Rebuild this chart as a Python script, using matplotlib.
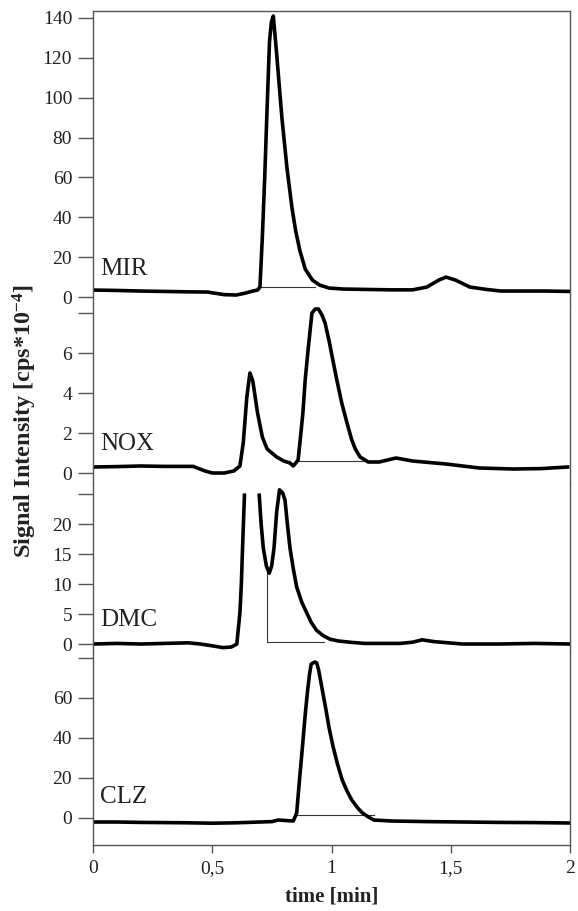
import numpy as np
import matplotlib
matplotlib.use("Agg")
import matplotlib.pyplot as plt

plt.rcParams['font.family'] = ['Liberation Serif', 'DejaVu Serif']
plt.rcParams['mathtext.fontset'] = 'custom'
plt.rcParams['mathtext.rm'] = 'Liberation Serif'
plt.rcParams['mathtext.bf'] = 'Liberation Serif:bold'

# chromatogram traces (time in min, signal)
mir_t = [0.00, 0.10, 0.20, 0.30, 0.40, 0.48, 0.55, 0.60, 0.64, 0.67, 0.69, 0.70,
         0.71, 0.72, 0.73, 0.74, 0.748, 0.756, 0.77, 0.792, 0.813, 0.834, 0.85,
         0.868, 0.89, 0.92, 0.95, 0.99, 1.05, 1.15, 1.25, 1.34, 1.40, 1.45, 1.48,
         1.52, 1.58, 1.65, 1.71, 1.80, 1.90, 2.00]
mir_y = [3.5, 3.3, 3.0, 2.8, 2.6, 2.5, 1.2, 1.0, 2.0, 3.0, 3.5, 5.0,
         30, 60, 95, 128, 138, 141, 122, 90, 65, 45, 33,
         23, 14, 8.5, 6.0, 4.5, 4.0, 3.8, 3.6, 3.6, 5.0, 8.5, 10.0,
         8.5, 5.0, 3.8, 3.0, 3.0, 3.0, 2.8]

nox_t = [0.00, 0.10, 0.20, 0.30, 0.42, 0.47, 0.50, 0.55, 0.59, 0.616, 0.63,
         0.645, 0.658, 0.67, 0.69, 0.71, 0.73, 0.77, 0.80, 0.826, 0.84, 0.86,
         0.87, 0.88, 0.89, 0.903, 0.918, 0.932, 0.945, 0.96, 0.973, 0.99, 1.008,
         1.025, 1.043, 1.065, 1.085, 1.10, 1.12, 1.154, 1.20, 1.27, 1.34, 1.48,
         1.62, 1.76, 1.88, 1.99]
nox_y = [0.30, 0.32, 0.35, 0.33, 0.33, 0.10, 0.00, 0.00, 0.10, 0.35, 1.5,
         3.8, 5.0, 4.6, 3.0, 1.8, 1.2, 0.8, 0.6, 0.5, 0.35, 0.65,
         1.8, 3.0, 4.7, 6.3, 8.0, 8.2, 8.2, 7.9, 7.5, 6.6, 5.5,
         4.5, 3.5, 2.5, 1.65, 1.2, 0.8, 0.55, 0.55, 0.75, 0.6, 0.45,
         0.25, 0.2, 0.22, 0.3]

dmc_t = [0.00, 0.10, 0.20, 0.30, 0.40, 0.45, 0.50, 0.545, 0.58, 0.603, 0.616,
         0.622, 0.627, 0.635, 0.66, 0.697, 0.705, 0.714, 0.727, 0.739, 0.749,
         0.759, 0.770, 0.782, 0.795, 0.805, 0.815, 0.826, 0.840, 0.854, 0.875,
         0.896, 0.915, 0.937, 0.965, 0.994, 1.03, 1.077, 1.14, 1.287, 1.34,
         1.38, 1.43, 1.55, 1.70, 1.85, 2.00]
dmc_y = [0.0, 0.1, 0.0, 0.1, 0.2, 0.0, -0.3, -0.6, -0.5, 0.0, 5.2,
         10.0, 16.0, 24.8, np.nan, 24.8, 20.0, 16.0, 13.0, 11.8, 13.0,
         16.0, 22.0, 25.7, 25.2, 24.0, 20.0, 16.0, 12.5, 9.5, 7.0,
         5.2, 3.6, 2.3, 1.4, 0.8, 0.5, 0.3, 0.1, 0.1, 0.3,
         0.7, 0.4, 0.0, 0.0, 0.1, 0.0]

clz_t = [0.00, 0.10, 0.20, 0.30, 0.40, 0.50, 0.60, 0.70, 0.75, 0.777, 0.80,
         0.84, 0.854, 0.865, 0.877, 0.89, 0.90, 0.908, 0.915, 0.93, 0.938,
         0.946, 0.96, 0.977, 0.99, 1.007, 1.025, 1.045, 1.065, 1.085, 1.11,
         1.13, 1.155, 1.177, 1.25, 1.40, 1.55, 1.70, 1.85, 2.00]
clz_y = [-2.0, -2.0, -2.2, -2.3, -2.4, -2.6, -2.4, -2.0, -1.8, -1.0, -1.2,
         -1.5, 2.5, 18, 34, 52, 64, 72, 77, 78, 77.5,
         74, 65, 54, 45, 35.5, 27, 19, 13.5, 9.0, 5.0,
         2.5, 0.5, -1.0, -1.5, -1.8, -2.0, -2.2, -2.3, -2.5]

# integration baselines and DMC drop line
mir_base = ([0.70, 0.93], [5.0, 5.0])
nox_base = ([0.86, 1.13], [0.6, 0.6])
dmc_base = ([0.73, 0.73, 0.97], [12.0, 0.33, 0.33])
clz_base = ([0.855, 1.18], [1.5, 1.5])

names = ['MIR', 'NOX', 'DMC', 'CLZ']
yticks = [[0, 20, 40, 60, 80, 100, 120, 140], [0, 2, 4, 6, 8],
          [0, 5, 10, 15, 20, 25], [0, 20, 40, 60, 80]]
ylabels = [['0', '20', '40', '60', '80', '100', '120', '140'],
           ['0', '2', '4', '6', ''], ['0', '5', '10', '15', '20', ''],
           ['0', '20', '40', '60', '']]
ylims = [(-3.5, 143.5), (-0.55, 8.45), (-1.33, 26.67), (-13.5, 83)]
name_y = [11, 1.15, 3.0, 7.5]
xticks = [0, 0.5, 1, 1.5, 2]
xlabels = ['0', '0,5', '1', '1,5', '2']

W, H = 578, 911
edges = [11, 304, 484, 652, 845]
frame = '#555555'

fig = plt.figure(figsize=(W / 100, H / 100), dpi=100)
traces = [(mir_t, mir_y, mir_base), (nox_t, nox_y, nox_base),
          (dmc_t, dmc_y, dmc_base), (clz_t, clz_y, clz_base)]

for i, (t, y, base) in enumerate(traces):
    top, bot = edges[i], edges[i + 1]
    ax = fig.add_axes([93 / W, 1 - bot / H, (570 - 93) / W, (bot - top) / H])
    ax.plot(base[0], base[1], color='#333333', lw=0.8)
    ax.plot(t, y, color='black', lw=2.6, solid_joinstyle='round')
    ax.set_xlim(0, 2)
    ax.set_ylim(*ylims[i])
    ax.set_yticks(yticks[i])
    ax.set_yticklabels(ylabels[i])
    ax.tick_params(axis='y', direction='out', length=11, width=1, color=frame,
                   labelsize=14, pad=4, labelcolor='#222222')
    ax.text(0.03, name_y[i], names[i], fontsize=18, va='baseline', color='#222222')
    for s in ax.spines.values():
        s.set_color(frame)
        s.set_linewidth(1)
    if i > 0:
        ax.spines['top'].set_visible(False)
    if i < 3:
        ax.spines['bottom'].set_visible(False)
        ax.tick_params(axis='x', bottom=False, labelbottom=False)
    else:
        ax.set_xticks(xticks)
        ax.set_xticklabels(xlabels)
        ax.tick_params(axis='x', direction='out', length=6, width=1, color=frame,
                       labelsize=14, pad=5, labelcolor='#222222')

fig.text(332 / W, 1 - 896 / H, 'time [min]', fontsize=15, fontweight='bold',
         ha='center', va='center', color='#222222')
fig.text(25 / W, 1 - 421 / H, r'Signal Intensity [cps*$\mathbf{10^{-4}}$]',
         fontsize=17.5, fontweight='bold', rotation=90, ha='center', va='center',
         color='#222222')

fig.savefig('out.png', dpi=100)
